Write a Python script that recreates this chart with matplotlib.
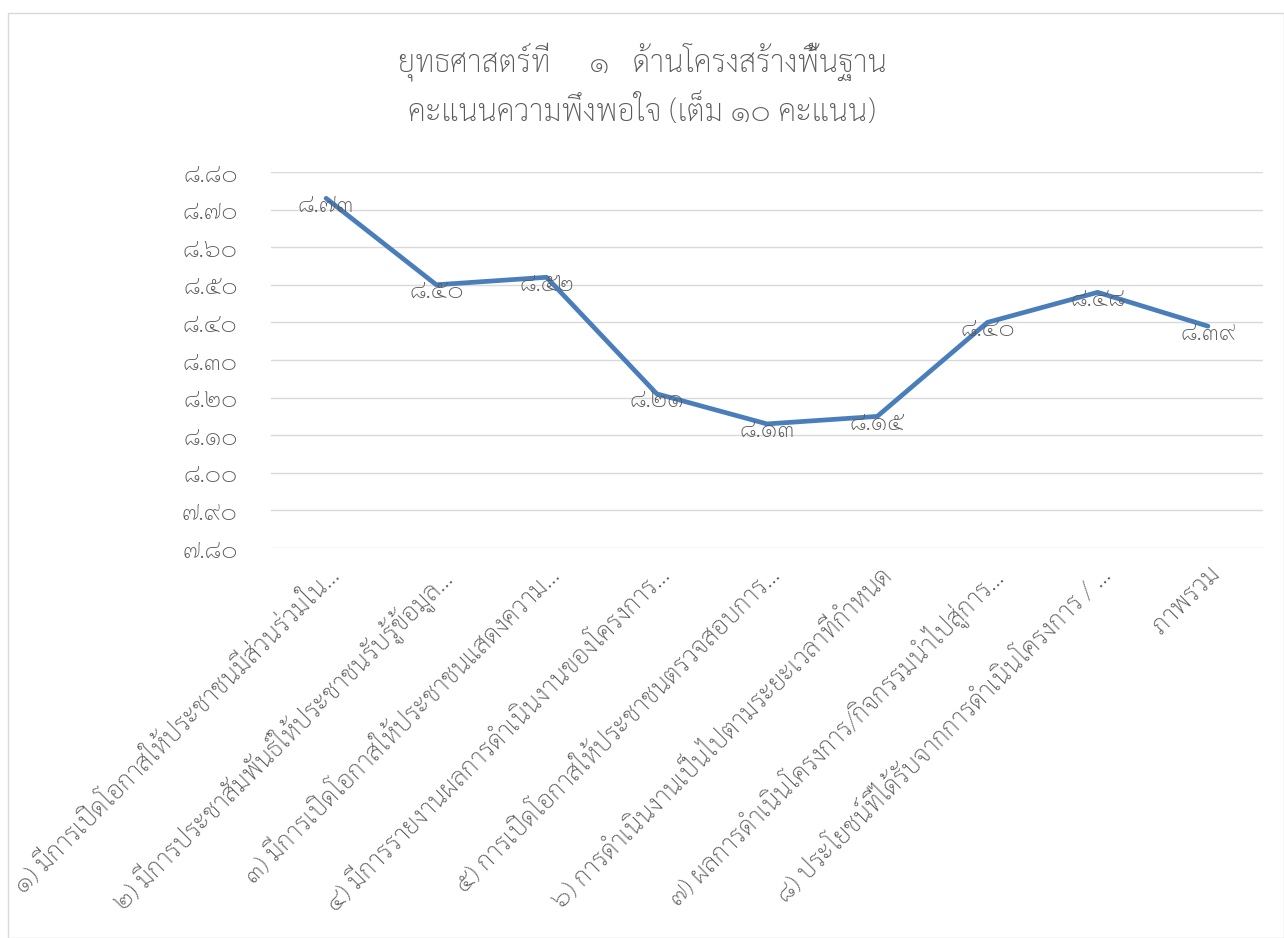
import matplotlib
matplotlib.use("Agg")
import matplotlib.pyplot as plt
from matplotlib.patches import Rectangle
from matplotlib.ticker import FuncFormatter

categories = [
    "๑) มีการเปิดโอกาสให้ประชาชนมีส่วนร่วมใน...",
    "๒) มีการประชาสัมพันธ์ให้ประชาชนรับรู้ข้อมูล...",
    "๓) มีการเปิดโอกาสให้ประชาชนแสดงความ...",
    "๔) มีการรายงานผลการดำเนินงานของโครงการ...",
    "๕) การเปิดโอกาสให้ประชาชนตรวจสอบการ...",
    "๖) การดำเนินงานเป็นไปตามระยะเวลาที่กำหนด",
    "๗) ผลการดำเนินโครงการ/กิจกรรมนำไปสู่การ...",
    "๘) ประโยชน์ที่ได้รับจากการดำเนินโครงการ / ...",
    "ภาพรวม",
]
scores = [8.73, 8.50, 8.52, 8.21, 8.13, 8.15, 8.40, 8.48, 8.39]
title_lines = ["ยุทธศาสตร์ที่     ๑   ด้านโครงสร้างพื้นฐาน",
               "คะแนนความพึงพอใจ (เต็ม ๑๐ คะแนน)"]
y_min, y_max, y_step = 7.80, 8.80, 0.10

THAI_DIGITS = str.maketrans("0123456789", "๐๑๒๓๔๕๖๗๘๙")


def thai_num(v):
    return f"{v:.2f}".translate(THAI_DIGITS)


plt.rcParams["font.family"] = ["Sarabun", "DejaVu Sans"]
plt.rcParams["font.weight"] = "light"

grey = "#595959"
line_col = "#4a7ebb"

fig = plt.figure(figsize=(12.84, 9.38), dpi=100)
fig.patches.append(Rectangle((8 / 1284, 0), 1 - 8 / 1284, 1 - 13 / 938,
                             transform=fig.transFigure, fill=False,
                             edgecolor="#d9d9d9", linewidth=1))

ax = fig.add_axes([271 / 1284, 1 - 548 / 938, 992 / 1284, 376 / 938])
x = list(range(len(categories)))
ax.plot(x, scores, color=line_col, linewidth=3.4, solid_capstyle="round",
        zorder=3)
for xi, v in zip(x, scores):
    ax.annotate(thai_num(v), (xi, v), xytext=(0, -5),
                textcoords="offset points", ha="center", va="center",
                fontsize=18, color=grey, zorder=4)

ax.set_xlim(-0.5, len(categories) - 0.5)
ax.set_ylim(y_min, y_max)
n_ticks = int(round((y_max - y_min) / y_step)) + 1
ax.set_yticks([y_min + i * y_step for i in range(n_ticks)])
ax.yaxis.set_major_formatter(FuncFormatter(lambda v, p: thai_num(v)))
ax.set_xticks(x)
ax.set_xticklabels(categories, rotation=45, ha="right",
                   rotation_mode="anchor", fontsize=18.5, color=grey)
ax.tick_params(axis="y", labelsize=18, labelcolor=grey, length=0, pad=24)
ax.tick_params(axis="x", length=0, pad=10)
ax.grid(axis="y", color="#d9d9d9", linewidth=1)
ax.set_axisbelow(True)
for s in ax.spines.values():
    s.set_visible(False)

fig.text(0.5, 1 - 62 / 938, title_lines[0], ha="center", va="center",
         fontsize=22, color=grey)
fig.text(0.5, 1 - 112 / 938, title_lines[1], ha="center", va="center",
         fontsize=22, color=grey)

fig.savefig("out.png", dpi=100)
